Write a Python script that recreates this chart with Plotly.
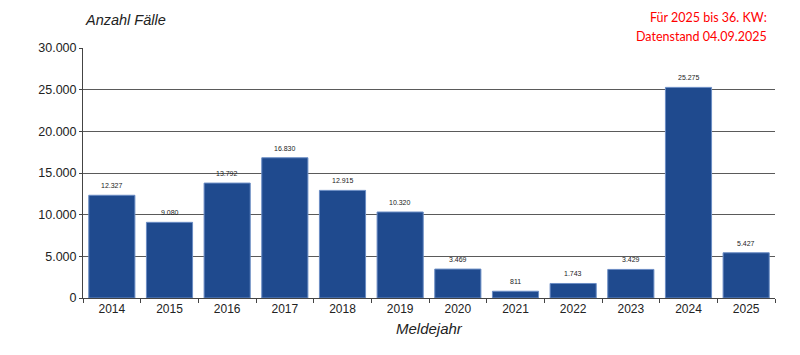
import plotly.graph_objects as go

years = ["2014", "2015", "2016", "2017", "2018", "2019", "2020", "2021", "2022", "2023", "2024", "2025"]
cases = [12327, 9080, 13792, 16830, 12915, 10320, 3469, 811, 1743, 3429, 25275, 5427]
y_ticks = [0, 5000, 10000, 15000, 20000, 25000, 30000]
note_lines = ["Für 2025 bis 36. KW:", "Datenstand 04.09.2025"]

fig = go.Figure()
fig.add_trace(go.Bar(
    x=years, y=cases,
    marker=dict(color="#1F4A8E", line=dict(color="#6A8CC4", width=1)),
    hoverinfo="x+y",
))

value_labels = [
    dict(x=i, y=v, text=f"{v:,}".replace(",", "."), xref="x", yref="y",
         showarrow=False, yanchor="bottom", yshift=4,
         font=dict(family="Liberation Sans", size=7, color="#222"))
    for i, v in enumerate(cases)
]

note_annots = [
    dict(text=line, xref="paper", yref="paper", x=1.0, y=1.0, xshift=-6,
         yshift=31 - 19 * k, xanchor="right", yanchor="middle", align="right",
         showarrow=False, font=dict(family="Lato", size=12.5, color="#FF0000"))
    for k, line in enumerate(note_lines)
]

fig.update_layout(
    width=800, height=355,
    margin=dict(l=75, r=33, t=40, b=65),
    plot_bgcolor="white", paper_bgcolor="white",
    separators=",.",
    bargap=0.2,
    showlegend=False,
    font=dict(family="Liberation Sans", color="#222"),
    xaxis=dict(
        type="category",
        showline=True, linecolor="#444", linewidth=1,
        ticks="outside", ticklen=4, tickcolor="#444",
        tickson="boundaries",
        tickfont=dict(size=12, color="#222"),
    ),
    yaxis=dict(
        range=[0, 30000], tickvals=y_ticks, tickformat=",.0f",
        showline=True, linecolor="#444", linewidth=1,
        ticks="outside", ticklen=3, tickcolor="#444",
        showgrid=True, gridcolor="#5a5a5a", gridwidth=1,
        zeroline=False,
        tickfont=dict(size=12.5, color="#222"),
    ),
    annotations=value_labels + note_annots + [
        dict(text="<i>Anzahl Fälle</i>", xref="paper", yref="paper", x=0.0, y=1.0,
             yshift=38, xanchor="left", yanchor="top", showarrow=False,
             font=dict(size=14.5, color="#222")),
        dict(text="<i>Meldejahr</i>", xref="paper", yref="paper", x=0.5, y=0,
             yshift=-20, xanchor="center", yanchor="top", showarrow=False,
             font=dict(size=15, color="#222")),
    ],
)

fig.write_html("out.html")
